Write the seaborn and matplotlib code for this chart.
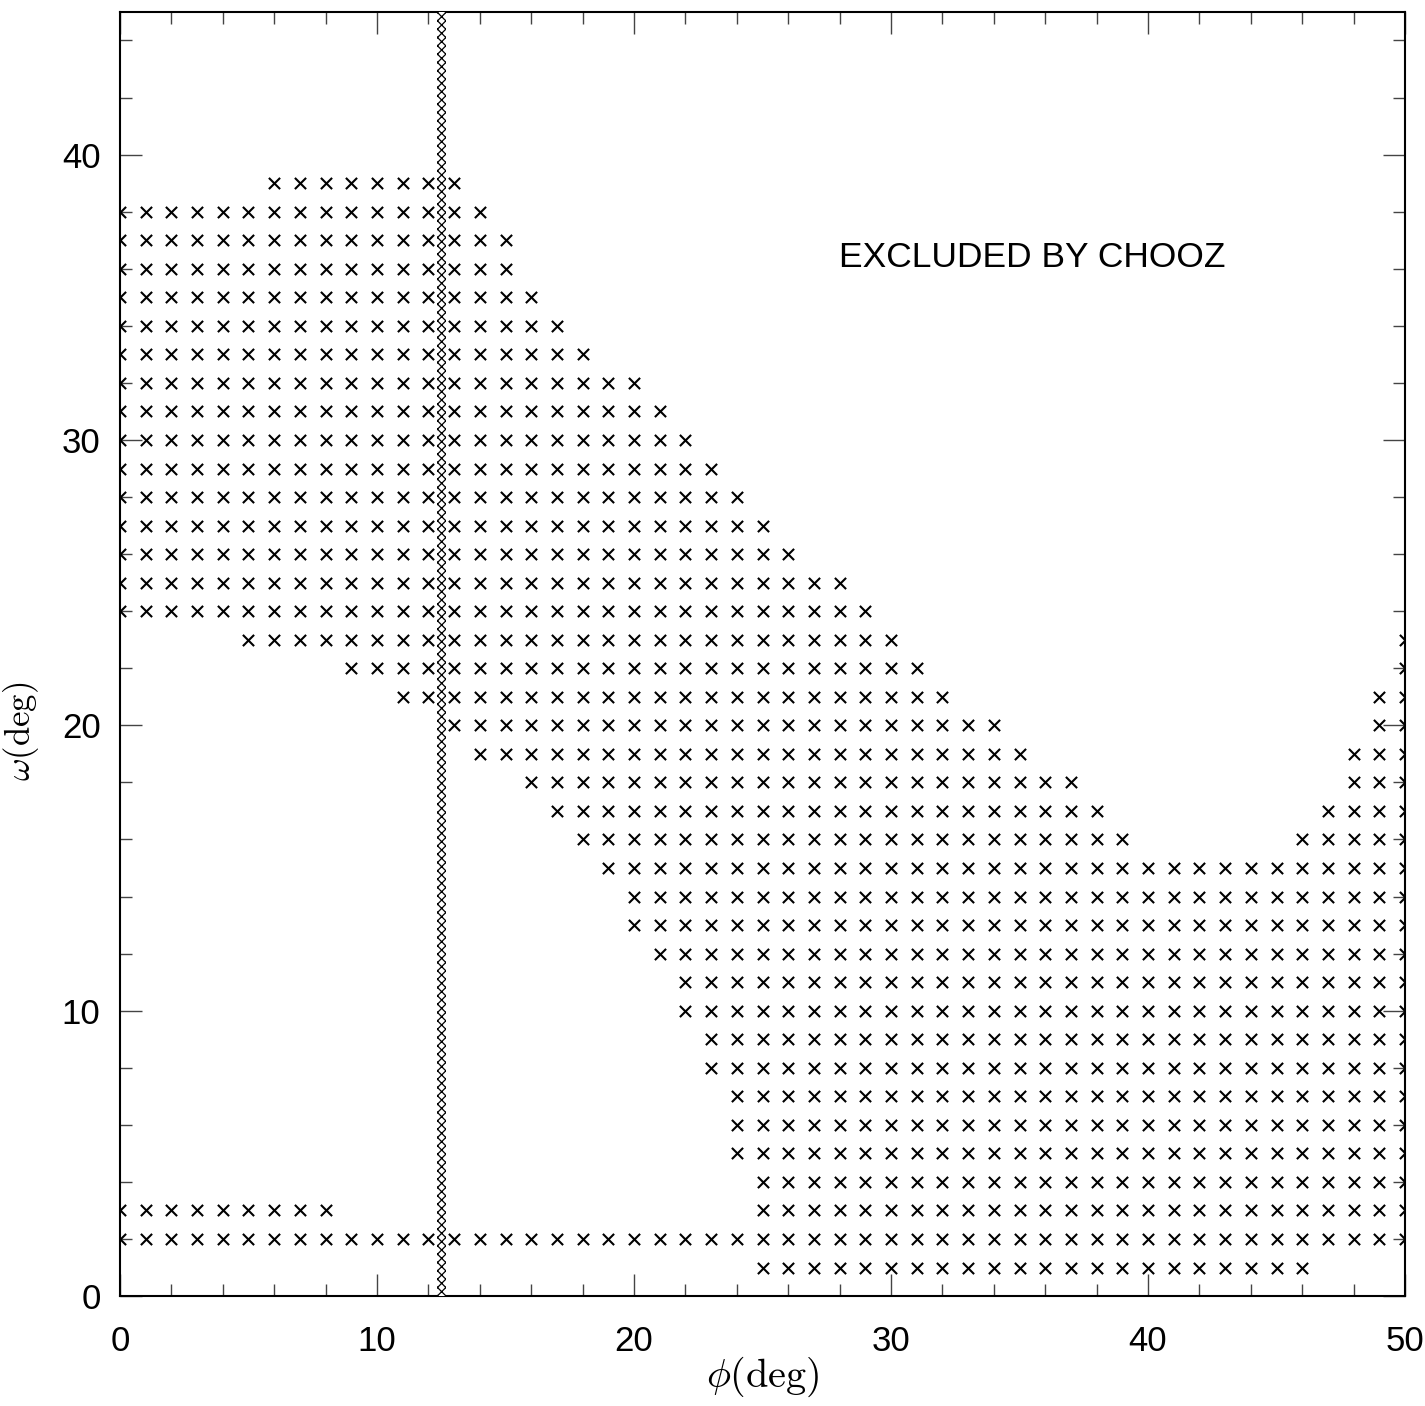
import seaborn as sns
import matplotlib.pyplot as plt
import pandas as pd
from matplotlib.ticker import MultipleLocator

# rows of the allowed (phi, omega) grid: one entry per contiguous run of points
seg_omega = [39, 38, 37, 36, 35, 34, 33, 32, 31, 30, 29, 28, 27, 26, 25, 24,
             23, 23, 22, 22, 21, 21, 20, 20, 19, 19, 18, 18, 17, 17, 16, 16,
             15, 14, 13, 12, 11, 10, 9, 8, 7, 6, 5, 4, 3, 3, 2, 1]
seg_lo = [6, 0, 0, 0, 0, 0, 0, 0, 0, 0, 0, 0, 0, 0, 0, 0,
          5, 50, 9, 50, 11, 49, 13, 49, 14, 48, 16, 48, 17, 47, 18, 46,
          19, 20, 20, 21, 22, 22, 23, 23, 24, 24, 24, 25, 0, 25, 0, 25]
seg_hi = [13, 14, 15, 15, 16, 17, 18, 20, 21, 22, 23, 24, 25, 26, 28, 29,
          30, 50, 31, 50, 32, 50, 34, 50, 35, 50, 37, 50, 38, 50, 39, 50,
          50, 50, 50, 50, 50, 50, 50, 50, 50, 50, 50, 50, 8, 50, 50, 46]

# CHOOZ band in phi
chooz_lo = 12.33
chooz_hi = 12.67

sns.set_style('ticks')
plt.rcParams['font.family'] = ['Liberation Sans', 'DejaVu Sans']
plt.rcParams['mathtext.fontset'] = 'cm'
plt.rcParams['hatch.linewidth'] = 0.9
plt.rcParams['text.color'] = 'black'
plt.rcParams['axes.labelcolor'] = 'black'
plt.rcParams['xtick.labelcolor'] = 'black'
plt.rcParams['ytick.labelcolor'] = 'black'

pts = []
for w, lo, hi in zip(seg_omega, seg_lo, seg_hi):
    for p in range(lo, hi + 1):
        pts.append((p, w))
df = pd.DataFrame(pts, columns=['phi', 'omega'])

fig, ax = plt.subplots(figsize=(14.25, 14.06), dpi=100)
fig.subplots_adjust(left=0.0842, right=0.986, bottom=0.0782, top=0.9915)

sns.scatterplot(data=df, x='phi', y='omega', marker='x', s=65, color='black',
                linewidth=1.5, ax=ax, legend=False, zorder=2)

ax.axvspan(chooz_lo, chooz_hi, facecolor='white', edgecolor='black',
           hatch='xxxx', linewidth=0, zorder=3)

ax.text(35.5, 36.4, 'EXCLUDED BY CHOOZ', ha='center', va='center', fontsize=25.5)

ax.set_xlim(0, 50)
ax.set_ylim(0, 45)
ax.xaxis.set_major_locator(MultipleLocator(10))
ax.xaxis.set_minor_locator(MultipleLocator(2))
ax.yaxis.set_major_locator(MultipleLocator(10))
ax.yaxis.set_minor_locator(MultipleLocator(2))
ax.tick_params(which='both', direction='in', top=True, right=True, width=1, color='#444444')
ax.tick_params(which='major', length=16, labelsize=25)
ax.tick_params(axis='x', which='major', pad=21)
ax.tick_params(axis='y', which='major', pad=14)
ax.tick_params(which='minor', length=8.5)
for s in ax.spines.values():
    s.set_linewidth(1.5)
    s.set_color('black')

ax.set_xlabel(r'$\phi(\rm deg)$', fontsize=29, va='center')
ax.set_ylabel(r'$\omega(\rm deg)$', fontsize=25, va='center')
ax.xaxis.set_label_coords(0.5, -0.063)
ax.yaxis.set_label_coords(-0.077, 0.44)

plt.savefig('out.png', dpi=100)
plt.close()
